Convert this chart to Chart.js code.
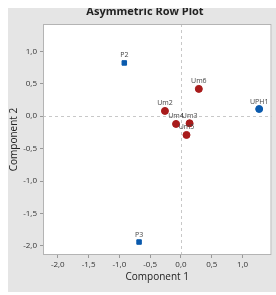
<html>
<body style="margin:0;background:#fff">
<div style="width:276px;height:295px">
    <canvas id="rowPlot" width="276" height="295"></canvas>
</div>
<script src="https://cdn.jsdelivr.net/npm/chart.js"></script>
<script>
    // rows of the table
    const rowNames = ["Um2", "Um3", "Um4", "Um5", "Um6"];
    const rowX = [-0.26, 0.14, -0.08, 0.09, 0.29];
    const rowY = [0.08, -0.11, -0.12, -0.29, 0.42];

    const uphNames = ["UPH1"];
    const uphX = [1.27];
    const uphY = [0.11];

    const colNames = ["P2", "P3"];
    const colX = [-0.92, -0.68];
    const colY = [0.82, -1.94];

    const xTicks = [-2.0, -1.5, -1.0, -0.5, 0.0, 0.5, 1.0];
    const yTicks = [-2.0, -1.5, -1.0, -0.5, 0.0, 0.5, 1.0];

    function pts(xs, ys, names) {
        return xs.map((x, i) => ({x: x, y: ys[i], name: names[i]}));
    }

    const fmt = v => v.toFixed(1).replace(".", ",");

    const frame = {
        id: "frame",
        beforeDraw(chart) {
            const c = chart.ctx, a = chart.chartArea;
            c.save();
            c.fillStyle = "#e5e5e5";
            c.fillRect(8, 8, 268, 284);
            c.fillStyle = "#fff";
            c.fillRect(a.left, a.top, a.right - a.left, a.bottom - a.top);
            // reference lines at zero
            c.strokeStyle = "#c8c8c8";
            c.setLineDash([3, 3]);
            c.lineWidth = 1;
            const x0 = Math.round(chart.scales.x.getPixelForValue(0)) + 0.5;
            const y0 = Math.round(chart.scales.y.getPixelForValue(0)) + 0.5;
            c.beginPath();
            c.moveTo(x0, a.top); c.lineTo(x0, a.bottom);
            c.moveTo(a.left, y0); c.lineTo(a.right, y0);
            c.stroke();
            c.setLineDash([]);
            c.restore();
        },
        afterDatasetsDraw(chart) {
            const c = chart.ctx, a = chart.chartArea;
            c.save();
            c.strokeStyle = "#b4b4b4";
            c.strokeRect(a.left + 0.5, a.top + 0.5, a.right - a.left - 1, a.bottom - a.top - 1);
            c.font = "7px 'Open Sans'";
            c.fillStyle = "#444";
            c.textAlign = "center";
            c.textBaseline = "bottom";
            chart.data.datasets.forEach((ds, i) => {
                chart.getDatasetMeta(i).data.forEach((el, j) => {
                    c.fillText(ds.data[j].name, el.x, el.y - 4);
                });
            });
            // title is cut at the top edge of the grey panel
            c.beginPath();
            c.rect(8, 8, 268, 20);
            c.clip();
            c.font = "bold 11px 'Open Sans'";
            c.fillStyle = "#222";
            c.textBaseline = "alphabetic";
            c.fillText("Asymmetric Row Plot", 145, 15);
            c.restore();
        }
    };

    const config = {
        type: "scatter",
        data: {
            datasets: [{
                data: pts(rowX, rowY, rowNames),
                backgroundColor: "#a81b1b",
                borderColor: "#a81b1b",
                pointRadius: 3.5,
                pointHoverRadius: 3.5
            }, {
                data: pts(uphX, uphY, uphNames),
                backgroundColor: "#0a5aad",
                borderColor: "#0a5aad",
                pointRadius: 3.5,
                pointHoverRadius: 3.5
            }, {
                data: pts(colX, colY, colNames),
                backgroundColor: "#0a5aad",
                borderColor: "#0a5aad",
                pointStyle: "rect",
                pointRadius: 3.2,
                pointHoverRadius: 3.2
            }]
        },
        options: {
            responsive: false,
            animation: false,
            events: [],
            layout: {padding: {left: 8, top: 24, right: 3, bottom: 10}},
            plugins: {legend: {display: false}, tooltip: {enabled: false}},
            scales: {
                x: {
                    min: -2.24,
                    max: 1.47,
                    afterBuildTicks: s => { s.ticks = xTicks.map(v => ({value: v})); },
                    afterFit: s => { s.height = 30; },
                    grid: {drawOnChartArea: false, tickLength: 3, color: "#999"},
                    border: {display: false},
                    ticks: {callback: fmt, color: "#333", font: {family: "Open Sans", size: 8}, padding: 2, maxRotation: 0},
                    title: {display: true, text: "Component 1", color: "#222", font: {family: "Open Sans", size: 10}, padding: {top: 0, bottom: 2}}
                },
                y: {
                    min: -2.14,
                    max: 1.42,
                    afterBuildTicks: s => { s.ticks = yTicks.map(v => ({value: v})); },
                    afterFit: s => { s.width = 35; },
                    grid: {drawOnChartArea: false, tickLength: 3, color: "#999"},
                    border: {display: false},
                    ticks: {callback: fmt, color: "#333", font: {family: "Open Sans", size: 8}, padding: 3},
                    title: {display: true, text: "Component 2", color: "#222", font: {family: "Open Sans", size: 10}, padding: {top: 0, bottom: 2}}
                }
            }
        },
        plugins: [frame]
    };

    const rowPlot = new Chart(document.getElementById("rowPlot").getContext("2d"), config);
</script>
</body>
</html>
